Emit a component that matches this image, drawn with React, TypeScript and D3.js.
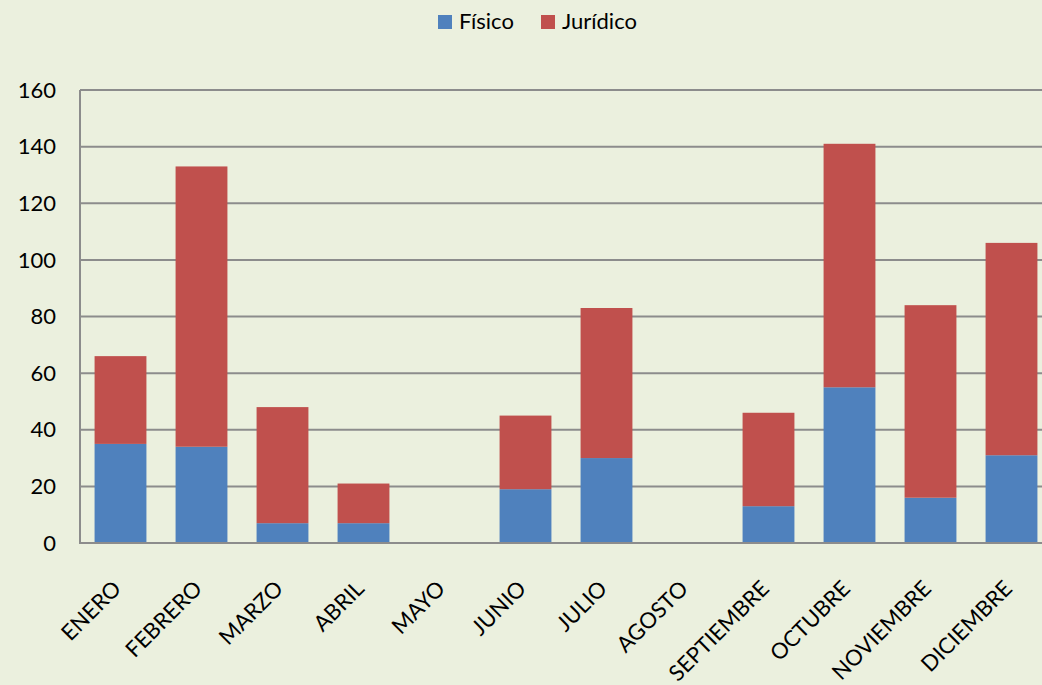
import React, { useRef, useEffect } from 'react';
import * as d3 from 'd3';

const months = ['ENERO', 'FEBRERO', 'MARZO', 'ABRIL', 'MAYO', 'JUNIO', 'JULIO', 'AGOSTO', 'SEPTIEMBRE', 'OCTUBRE', 'NOVIEMBRE', 'DICIEMBRE'];
const fisico = [35, 34, 7, 7, 0, 19, 30, 0, 13, 55, 16, 31];
const juridico = [31, 99, 41, 14, 0, 26, 53, 0, 33, 86, 68, 75];
const seriesNames = ['Físico', 'Jurídico'];
const colors = ['#4F81BD', '#C0504D'];
const yTicks = [0, 20, 40, 60, 80, 100, 120, 140, 160];

const App = () => {
  const ref = useRef<SVGSVGElement>(null);

  useEffect(() => {
    const svg = d3.select(ref.current);
    svg.selectAll('*').remove();

    const W = 1042, H = 685;
    const left = 80, top = 90, bottom = 543, right = 1052;
    const font = 'Lato, "Open Sans", sans-serif';

    svg.append('rect').attr('width', W).attr('height', H).attr('fill', '#EBF0DE');

    const x = d3.scaleBand<string>().domain(months).range([left, right]).paddingInner(0.36).paddingOuter(0.18);
    const y = d3.scaleLinear().domain([0, 160]).range([bottom, top]);

    // gridlines
    svg.append('g').selectAll('line').data(yTicks.filter(t => t > 0)).enter().append('line')
      .attr('x1', left).attr('x2', W)
      .attr('y1', d => y(d)).attr('y2', d => y(d))
      .attr('stroke', '#8C8C8C').attr('stroke-width', 2);

    // stacked data
    const rows = months.map((m, i) => ({ month: m, 'Físico': fisico[i], 'Jurídico': juridico[i] }));
    const stack = d3.stack<any>().keys(seriesNames)(rows);

    svg.append('g').selectAll('g').data(stack).enter().append('g')
      .attr('fill', (_, i) => colors[i])
      .selectAll('rect').data(d => d).enter().append('rect')
      .attr('x', d => x(d.data.month)!)
      .attr('width', x.bandwidth())
      .attr('y', d => y(d[1]))
      .attr('height', d => y(d[0]) - y(d[1]));

    // axes lines
    svg.append('line').attr('x1', left).attr('x2', left).attr('y1', top).attr('y2', bottom)
      .attr('stroke', '#8C8C8C').attr('stroke-width', 2);
    svg.append('line').attr('x1', left - 1).attr('x2', W).attr('y1', bottom).attr('y2', bottom)
      .attr('stroke', '#8C8C8C').attr('stroke-width', 2);

    // y tick labels
    svg.append('g').selectAll('text').data(yTicks).enter().append('text')
      .attr('x', 56).attr('y', d => y(d)).attr('dy', '0.35em')
      .attr('text-anchor', 'end').attr('font-family', font).attr('font-size', 22).attr('fill', '#000')
      .text(d => d);

    // x labels
    svg.append('g').selectAll('text').data(months).enter().append('text')
      .attr('transform', d => `translate(${x(d)! + x.bandwidth() / 2 + 2},${590}) rotate(-45)`)
      .attr('text-anchor', 'end').attr('font-family', font).attr('font-size', 22).attr('fill', '#000')
      .text(d => d);

    // legend
    const lx = [438, 541];
    const lg = svg.append('g');
    seriesNames.forEach((s, i) => {
      lg.append('rect').attr('x', lx[i]).attr('y', 15).attr('width', 14).attr('height', 14).attr('fill', colors[i]);
      lg.append('text').attr('x', lx[i] + 21).attr('y', 29)
        .attr('font-family', font).attr('font-size', 22).attr('fill', '#000').text(s);
    });
  }, []);

  return <svg ref={ref} width={1042} height={685} style={{ display: 'block', position: 'absolute', left: 0, top: 0 }}></svg>;
};

export default App;
